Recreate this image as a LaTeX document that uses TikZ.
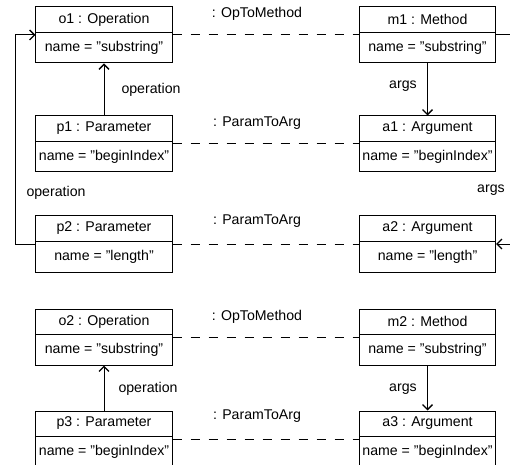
\documentclass[tikz,border=0pt]{standalone}
\usepackage{fontspec}
\setmainfont{Liberation Sans}
\usetikzlibrary{arrows.meta}
\tikzset{
  objframe/.style={draw=black, line width=1bp, minimum width=136bp, minimum height=56bp, inner sep=0pt},
  objtext/.style={inner sep=0pt, font=\fontsize{14.2}{17}\selectfont},
  lbl/.style={inner sep=0pt, font=\fontsize{14.2}{17}\selectfont},
  corr/.style={draw=black, line width=1bp, dash pattern=on 9bp off 9bp},
  ref/.style={draw=black, line width=1bp, -{Straight Barb[length=5bp,width=10bp,line width=1.3bp]}},
  plain/.style={draw=black, line width=1bp}
}
\newcommand{\objbox}[5]{%
  \node[objframe] (#1) at (#2,#3+28) {};
  \draw[plain] ([yshift=-26bp]#1.north west) -- ([yshift=-26bp]#1.north east);
  \node[objtext] (#1h) at ([yshift=-13bp]#1.north) {#4};
  \node[objtext] (#1b) at ([yshift=-41bp]#1.north) {#5};
}
\begin{document}
\begin{tikzpicture}[x=1bp,y=-1bp]
\useasboundingbox (0,0) rectangle (510,465);
% left column
\objbox{o1}{104}{7}{o1 : Operation}{name = "substring"}
\objbox{p1}{104}{116}{p1 : Parameter}{name = "beginIndex"}
\objbox{p2}{104}{216}{p2 : Parameter}{name = "length"}
\objbox{o2}{104}{309}{o2 : Operation}{name = "substring"}
\objbox{p3}{104}{411}{p3 : Parameter}{name = "beginIndex"}
% right column
\objbox{m1}{427.5}{7}{m1 : Method}{name = "substring"}
\objbox{a1}{427.5}{116}{a1 : Argument}{name = "beginIndex"}
\objbox{a2}{427.5}{216}{a2 : Argument}{name = "length"}
\objbox{m2}{427.5}{309}{m2 : Method}{name = "substring"}
\objbox{a3}{427.5}{411}{a3 : Argument}{name = "beginIndex"}
% correspondences
\draw[corr] (o1.east) -- (m1.west);
\draw[corr] (p1.east) -- (a1.west);
\draw[corr] (p2.east) -- (a2.west);
\draw[corr] (o2.east) -- (m2.west);
\draw[corr] (p3.east) -- (a3.west);
\node[lbl] (c1) at (257,14) {: OpToMethod};
\node[lbl] (c2) at (257,123) {: ParamToArg};
\node[lbl] (c3) at (257,221) {: ParamToArg};
\node[lbl] (c4) at (257,317) {: OpToMethod};
\node[lbl] (c5) at (257,416) {: ParamToArg};
% references left
\draw[ref] (p1.north) -- (o1.south);
\node[lbl] (l1) at (151,90) {operation};
\draw[ref] (p2.west) -- ++(-20,0) |- (o1.west);
\node[lbl] (l2) at (56,193) {operation};
\draw[ref] (p3.north) -- (o2.south);
\node[lbl] (l3) at (148,389) {operation};
% references right
\draw[ref] (m1.south) -- (a1.north);
\node[lbl] (r1) at (403,86) {args};
\coordinate (m1out) at (515,35);
\draw[plain] (m1.east) -- (m1out);
\coordinate (a2in) at (515,244);
\draw[ref] (a2in) -- (a2.east);
\node[lbl] (r2) at (491,190) {args};
\draw[ref] (m2.south) -- (a3.north);
\node[lbl] (r3) at (403,389) {args};
\end{tikzpicture}
\end{document}
